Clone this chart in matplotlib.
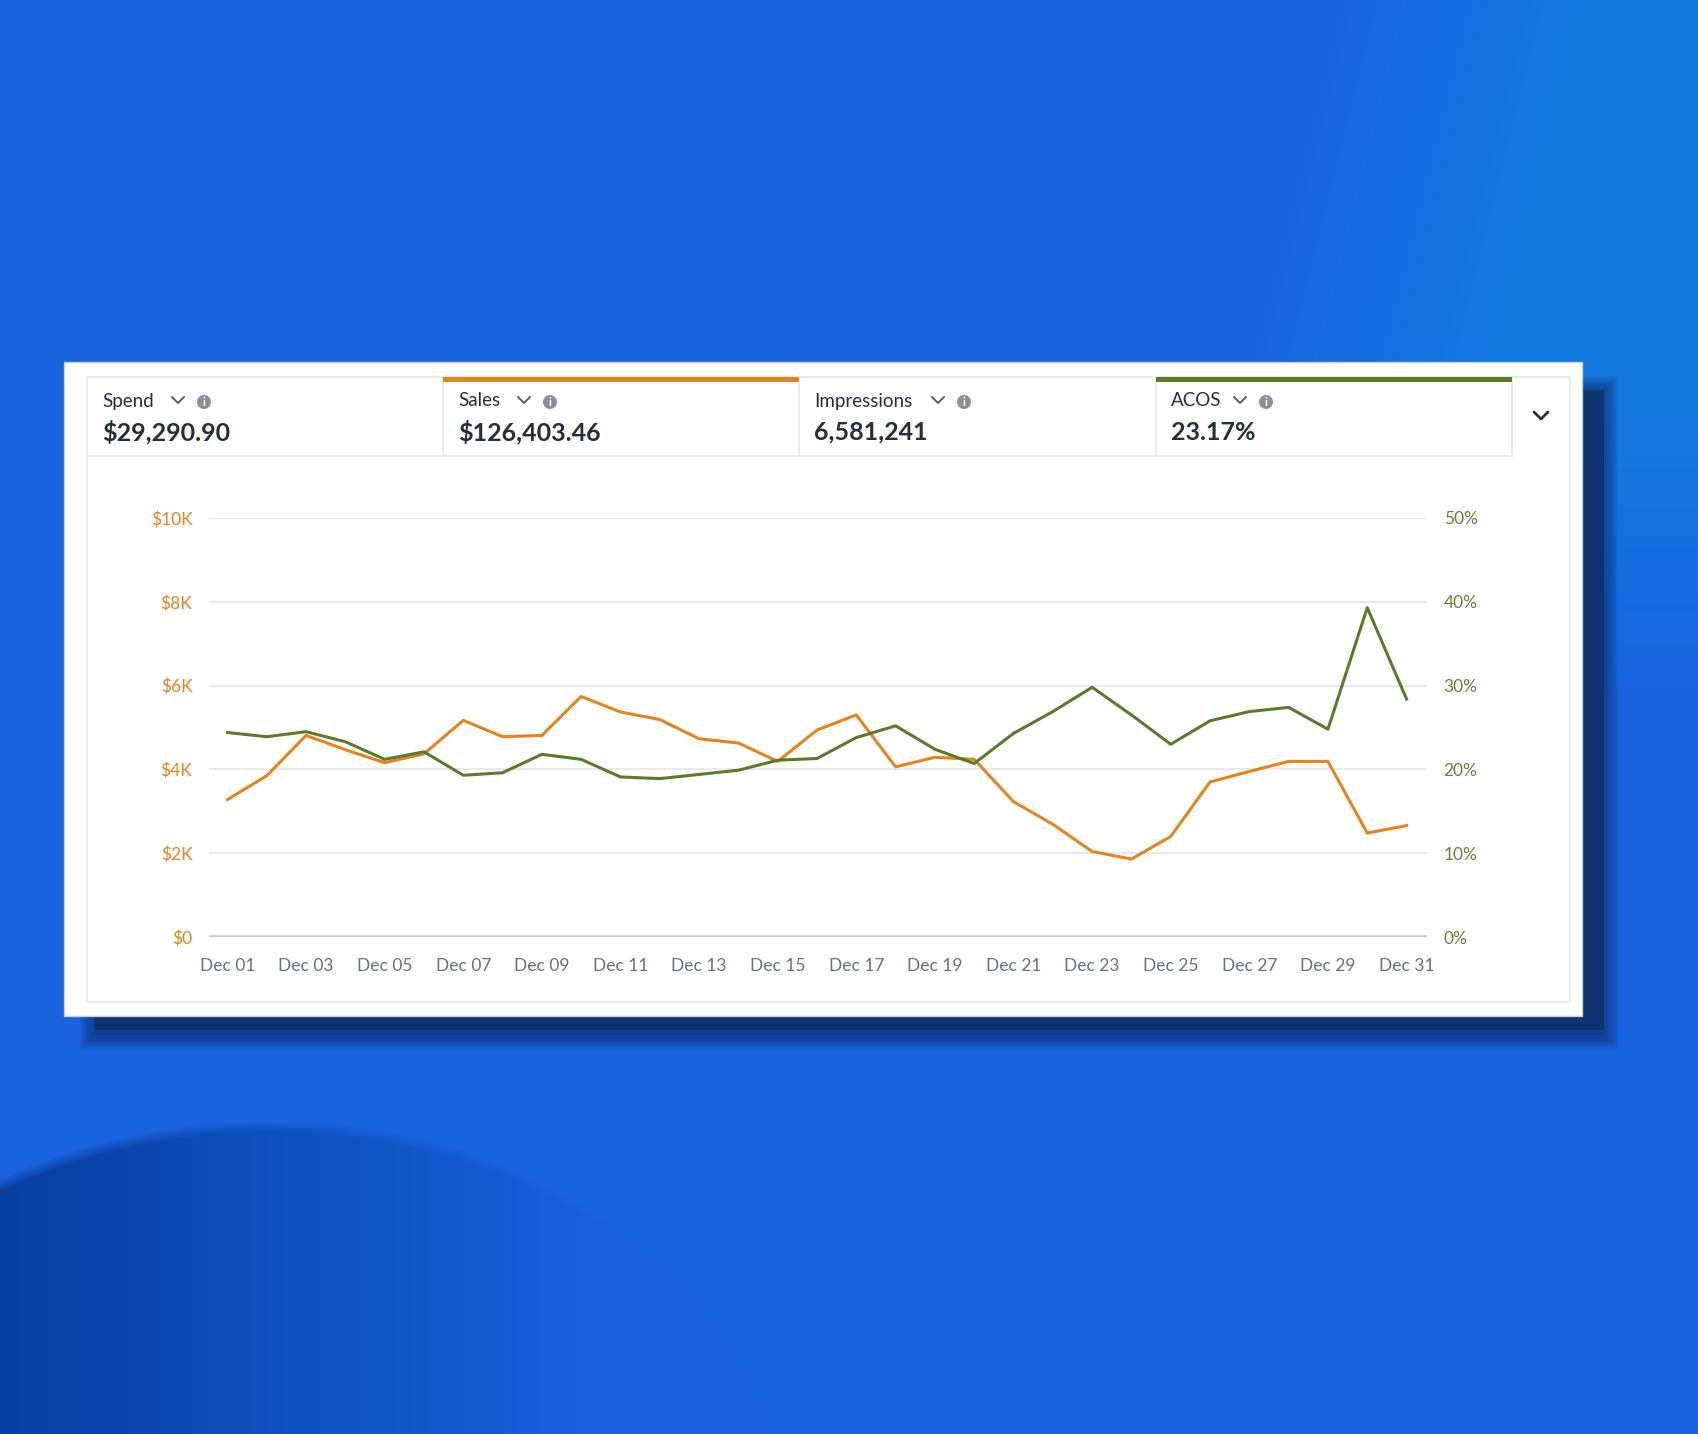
import numpy as np
import matplotlib
matplotlib.use("Agg")
import matplotlib.pyplot as plt
from matplotlib.patches import Rectangle, Circle
from matplotlib.ticker import FixedLocator

plt.rcParams['font.family'] = ['Lato', 'DejaVu Sans']

# data
days = list(range(1, 32))
sales_k = [3.28, 3.85, 4.81, 4.47, 4.16, 4.37, 5.17, 4.78, 4.81, 5.74,
           5.37, 5.19, 4.73, 4.63, 4.19, 4.94, 5.30, 4.06, 4.29, 4.24,
           3.23, 2.69, 2.04, 1.86, 2.40, 3.70, 3.95, 4.19, 4.19, 2.48, 2.66]
acos_pct = [24.4, 23.9, 24.5, 23.3, 21.2, 22.1, 19.3, 19.6, 21.8, 21.2,
            19.1, 18.9, 19.4, 19.9, 21.1, 21.3, 23.8, 25.2, 22.4, 20.7,
            24.3, 26.9, 29.8, 26.5, 23.0, 25.8, 26.9, 27.4, 24.8, 39.3, 28.4]
tick_days = list(range(1, 32, 2))
tick_labels = ['Dec %02d' % d for d in tick_days]
left_ticks = [0, 2, 4, 6, 8, 10]
left_labels = ['$0', '$2K', '$4K', '$6K', '$8K', '$10K']
right_ticks = [0, 10, 20, 30, 40, 50]
right_labels = ['0%', '10%', '20%', '30%', '40%', '50%']

metric_names = ['Spend', 'Sales', 'Impressions', 'ACOS']
metric_values = ['$29,290.90', '$126,403.46', '6,581,241', '23.17%']

ORANGE = '#e3841f'
GREEN = '#5b7a2d'
DARK = '#232f3e'
W, H = 1698, 1434

fig = plt.figure(figsize=(W / 100, H / 100), dpi=100)

# background in pixel coordinates
bg = fig.add_axes([0, 0, 1, 1])
bg.set_xlim(0, W)
bg.set_ylim(H, 0)
bg.axis('off')

yy, xx = np.mgrid[0:H, 0:W].astype(float)
base = np.array([0.102, 0.392, 0.871])
light = np.array([0.075, 0.478, 0.875])
dark = np.array([0.030, 0.245, 0.630])
wl = np.clip((xx + 0.25 * yy - 1330) / 260, 0, 1) * np.clip((700 - yy) / 300, 0, 1)
ell = ((xx - 270) / 520) ** 2 + ((yy - 1520) / 400) ** 2
inside = np.clip((1 - ell) / 0.06, 0, 1)
wd = inside * np.clip((620 - xx) / 620, 0, 1) ** 1.1 * 0.95 + inside * 0.06
img = base[None, None, :] * (1 - wl[..., None]) + light[None, None, :] * wl[..., None]
img = img * (1 - wd[..., None]) + dark[None, None, :] * wd[..., None]
bg.imshow(np.clip(img, 0, 1), extent=(0, W, H, 0), aspect='auto', zorder=0)

# card shadow
for i in range(8):
    g = i * 2
    bg.add_patch(Rectangle((94 - g, 390 - g), 1510 + 2 * g, 645 + 2 * g,
                           facecolor='#0d2f70', edgecolor='none',
                           alpha=0.12, zorder=1))
bg.add_patch(Rectangle((94, 390), 1510, 640, facecolor='#10326f',
                       edgecolor='none', alpha=0.9, zorder=1))

# card
bg.add_patch(Rectangle((64, 362), 1518, 654, facecolor='white',
                       edgecolor='#c9ced6', lw=1, zorder=2))
bg.add_patch(Rectangle((87, 377), 1483, 625, facecolor='white',
                       edgecolor='#e4e6e8', lw=1.2, zorder=2))

# header tabs
tab_x = [87, 443, 799, 1156, 1512]
bg.plot([87, 1512], [456, 456], color='#e4e6e8', lw=1.2, zorder=3)
for x in tab_x[1:]:
    bg.plot([x, x], [377, 456], color='#e4e6e8', lw=1.2, zorder=3)
bg.add_patch(Rectangle((443, 377), 356, 5, facecolor=ORANGE, edgecolor='none', zorder=4))
bg.add_patch(Rectangle((1156, 377), 356, 5, facecolor=GREEN, edgecolor='none', zorder=4))

label_x = [102, 458, 814, 1171]
chev_x = [178, 524, 938, 1240]
info_x = [204, 550, 964, 1266]
for name, val, lx, cx, ix in zip(metric_names, metric_values, label_x, chev_x, info_x):
    bg.text(lx, 401, name, fontsize=13.5, color=DARK, ha='left', va='center', zorder=5)
    bg.text(lx, 432, val, fontsize=18, color=DARK, fontweight='bold',
            ha='left', va='center', zorder=5)
    bg.plot([cx - 6, cx, cx + 6], [397, 403, 397], color='#545b64', lw=1.4,
            solid_capstyle='round', zorder=5)
    bg.add_patch(Circle((ix, 402), 7, facecolor='#8c9199', edgecolor='none', zorder=5))
    bg.text(ix, 402.5, 'i', fontsize=8, color='white', fontweight='bold',
            ha='center', va='center', zorder=6)
bg.plot([1534, 1541, 1548], [412, 419, 412], color=DARK, lw=2,
        solid_capstyle='round', zorder=5)

# chart
ax = fig.add_axes([209 / W, 1 - 937 / H, (1427 - 209) / W, (937 - 518) / H], zorder=3)
ax.patch.set_alpha(0)
ax2 = ax.twinx()
ax.set_xlim(0.53, 31.52)
ax.set_ylim(0, 10)
ax2.set_ylim(0, 50)

for v in left_ticks[1:]:
    ax.axhline(v, color='#e6e8eb', lw=1.3, zorder=1)
ax.axhline(0, color='#c9ccd0', lw=2.6, zorder=1)

ax.plot(days, sales_k, color=ORANGE, lw=2.2, zorder=3)
ax2.plot(days, acos_pct, color=GREEN, lw=2.2, zorder=3)

for a in (ax, ax2):
    for s in a.spines.values():
        s.set_visible(False)
    a.tick_params(length=0)

ax.xaxis.set_major_locator(FixedLocator(tick_days))
ax.set_xticklabels(tick_labels, fontsize=12.5, color='#687078')
ax.tick_params(axis='x', pad=15)
ax.set_yticks(left_ticks)
ax.set_yticklabels(left_labels, fontsize=12.5, color=ORANGE)
ax.tick_params(axis='y', pad=12)
ax2.set_yticks(right_ticks)
ax2.set_yticklabels(right_labels, fontsize=12.5, color='#67803a')
ax2.tick_params(axis='y', pad=12)

fig.savefig('out.png', dpi=100)
